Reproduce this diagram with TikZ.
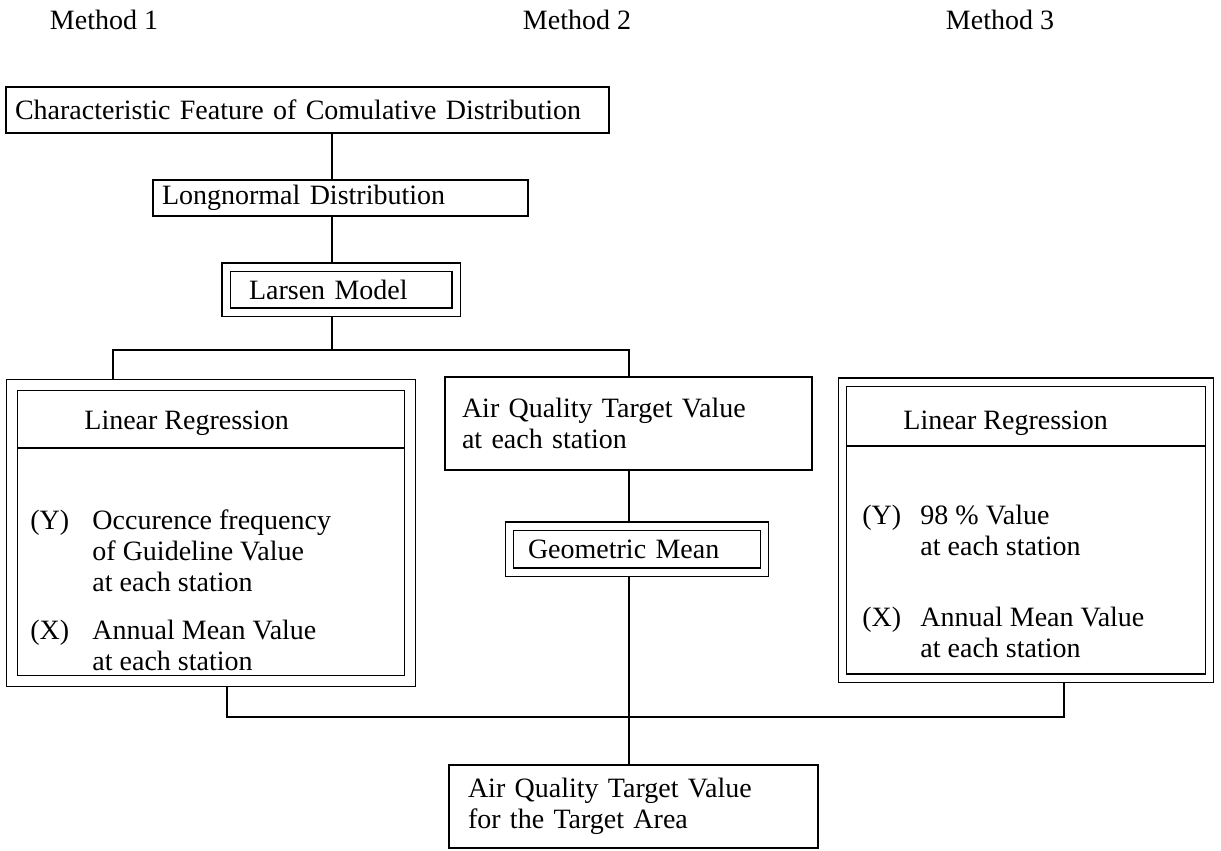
\documentclass[tikz,border=0pt]{standalone}
\usepackage{fontspec}
\setmainfont{Liberation Serif}
\usepackage{tikz}
\usetikzlibrary{positioning}

\begin{document}
\begin{tikzpicture}[
        x=0.5pt, y=-0.5pt,
        box/.style={rectangle, draw=black, line width=0.7pt, align=left, inner ysep=0pt, font=\fontsize{14}{15.5}\selectfont},
        dbl/.style={box, double, double distance=3.5pt, outer sep=2.45pt},
        txt/.style={inner sep=0pt, align=left, font=\fontsize{14}{15.5}\selectfont},
        conn/.style={draw=black, line width=0.7pt}
    ]
    \useasboundingbox (0,0) rectangle (1221,851);

    % Method headings
    \node[txt, anchor=base] (m1) at (104,29) {Method 1};
    \node[txt, anchor=base] (m2) at (577,29) {Method 2};
    \node[txt, anchor=base] (m3) at (1000,29) {Method 3};

    % Common chain (top)
    \node[box, minimum height=23pt, inner xsep=4.5pt, text width=292.5pt] (top) at (307.5,110) {Characteristic Feature of Comulative Distribution};
    \node[box, minimum height=18pt, inner xsep=4.5pt, text width=178.5pt] (lognorm) at (340.5,198) {Longnormal Distribution};
    \node[dbl, minimum height=22.5pt, inner xsep=11.5pt, text width=92pt] (larsen) at (341,289.5) {Larsen Model};

    % Method 1 (left frame)
    \node[dbl, double distance=4.8pt, outer sep=3.1pt, minimum width=198.75pt, minimum height=148pt, inner sep=0pt] (regA) at (211,533) {};
    \coordinate (divA) at (0,448);
    \draw[conn] ([xshift=5.85pt]regA.west |- divA) -- ([xshift=-5.85pt]regA.east |- divA);
    \node[txt, anchor=base west] (hdrA) at (84,429) {Linear Regression};
    \node[txt, anchor=base west] (yA) at (30,529) {\begin{tabular}[t]{@{}l@{\hspace{11.6pt}}l@{}}(Y) & Occurence frequency\\ & of Guideline Value\\ & at each station\end{tabular}};
    \node[txt, anchor=base west] (xA) at (30,639) {\begin{tabular}[t]{@{}l@{\hspace{11.6pt}}l@{}}(X) & Annual Mean Value\\ & at each station\end{tabular}};

    % Method 2 (middle column)
    \node[box, minimum height=46.5pt, inner xsep=8.5pt, text width=166.5pt] (aq) at (628.5,423.5) {Air Quality Target Value\\at each station};
    \node[dbl, minimum height=23pt, inner xsep=9.25pt, text width=109pt] (geo) at (637,549) {Geometric Mean};

    % Method 3 (right frame)
    \node[dbl, minimum width=183.5pt, minimum height=148pt, inner sep=0pt] (regB) at (1026,530) {};
    \coordinate (divB) at (0,446);
    \draw[conn] ([xshift=4.55pt]regB.west |- divB) -- ([xshift=-4.55pt]regB.east |- divB);
    \node[txt, anchor=base west] (hdrB) at (903,429) {Linear Regression};
    \node[txt, anchor=base west] (yB) at (862,524) {\begin{tabular}[t]{@{}l@{\hspace{9.6pt}}l@{}}(Y) & 98 \% Value\\ & at each station\end{tabular}};
    \node[txt, anchor=base west] (xB) at (862,626) {\begin{tabular}[t]{@{}l@{\hspace{9.6pt}}l@{}}(X) & Annual Mean Value\\ & at each station\end{tabular}};

    % Result
    \node[box, minimum height=41.5pt, inner xsep=9.5pt, text width=165.5pt] (final) at (633.5,806.5) {Air Quality Target Value\\for the Target Area};

    % Connectors
    \coordinate (spine) at (332,0);
    \draw[conn] (top.south -| spine) -- (lognorm.north -| spine);
    \draw[conn] (lognorm.south -| spine) -- (larsen.north -| spine);

    \coordinate (split) at (332,350);
    \coordinate (splitA) at (113,350);
    \coordinate (splitM) at (629,350);
    \draw[conn] (larsen.south -| split) -- (split);
    \draw[conn] (splitA |- regA.north) -- (splitA) -- (splitM) -- (splitM |- aq.north);
    \draw[conn] (aq.south -| splitM) -- (geo.north -| splitM);
    \draw[conn] (geo.south -| splitM) -- (final.north -| splitM);

    \coordinate (joinA) at (227,717);
    \coordinate (joinB) at (1064,717);
    \draw[conn] (regA.south -| joinA) -- (joinA) -- (joinB) -- (regB.south -| joinB);

\end{tikzpicture}
\end{document}
